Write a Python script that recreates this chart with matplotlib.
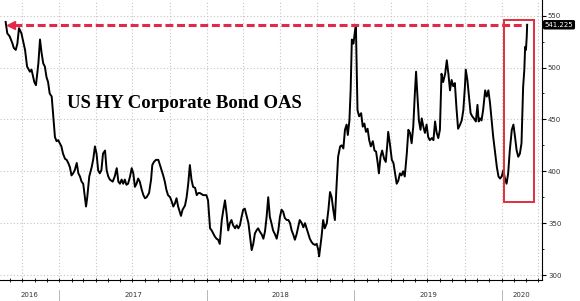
import pandas as pd
import matplotlib
matplotlib.use("Agg")
import matplotlib.pyplot as plt
import matplotlib.dates as mdates
from matplotlib.patches import Rectangle
from matplotlib.transforms import blended_transform_factory

# observation dates, as days after 2017-01-01, and the OAS in bp
days = [-133, -129, -123, -116, -113, -108, -104, -100, -94, -90,
        -85, -80, -73, -69, -62, -58, -52, -48, -44, -40,
        -36, -32, -28, -24, -19, -15, -11, -7, -3, 1,
        5, 9, 14, 18, 22, 26, 30, 34, 38, 43,
        47, 51, 55, 59, 63, 66, 69, 74, 80, 84,
        88, 92, 96,
        100, 104, 108, 113, 117, 121, 125, 132, 137, 142,
        146, 150, 154, 158, 162, 166, 170, 175, 179, 183,
        187, 191, 195, 199, 204, 208, 212, 216, 222, 227,
        230, 234, 239, 245, 249, 253, 257, 261, 265, 269,
        274, 278, 282, 286, 290, 294, 298, 301, 305, 311,
        315, 319, 323, 327, 331, 336, 340, 344,
        348, 356, 364, 368, 373, 377, 381, 385, 389, 393,
        397, 402, 406, 410, 414, 418, 422, 426, 430, 435,
        439, 443, 447, 451, 455, 459, 464, 468, 472, 476,
        480, 484, 488, 492, 496, 501, 505, 509, 513, 517,
        521, 525, 529, 534, 538, 542, 546, 550, 554, 558,
        563, 567, 571, 575, 579, 583, 587, 595, 600, 604,
        608, 612, 616, 620, 624, 628, 633, 637, 641, 643,
        649, 653, 657, 662, 666, 670, 674, 678, 682, 686,
        690, 695, 699, 703, 707, 711, 714, 718, 721, 724,
        728, 732, 734, 736, 738, 742, 747, 751, 755, 759,
        763, 767, 771, 776, 780, 784, 788, 791, 795, 799,
        804, 808, 812, 814, 818, 823, 827, 831, 835, 839,
        843, 847, 851, 855, 860, 864, 868, 872, 876, 880,
        883, 886, 890, 894, 897, 901, 905, 909, 913, 917,
        922, 926, 930, 934, 938, 942, 946, 950, 955, 959,
        963, 967, 971, 975, 979, 983, 987, 992, 996, 1000,
        1004, 1006, 1010, 1014, 1018, 1022, 1026, 1031, 1035, 1038,
        1041,
        1045, 1049, 1054, 1058, 1062, 1066, 1070, 1074, 1078, 1083,
        1087, 1091, 1095, 1099, 1103, 1107, 1111, 1115, 1120, 1124,
        1128, 1132, 1136, 1140, 1144, 1148, 1151, 1153, 1155, 1157,
        1158]

oas = [544, 533, 530, 523, 519, 517, 523, 538, 533, 526,
       517, 501, 496, 498, 486, 483, 504, 527, 514, 504,
       501, 491, 486, 475, 472, 453, 433, 429, 430, 427,
       424, 417, 412, 411, 408, 404, 396, 398, 401, 408,
       398, 395, 390, 388, 375, 366, 375, 395, 404, 412,
       424, 417, 401,
       398, 401, 417, 420, 401, 395, 392, 390, 395, 403,
       390, 388, 392, 388, 392, 387, 388, 395, 403, 398,
       385, 388, 393, 390, 382, 377, 374, 375, 379, 392,
       406, 409, 411, 411, 406, 401, 396, 390, 382, 377,
       375, 371, 366, 369, 374, 366, 361, 357, 363, 367,
       375, 388, 406, 392, 385, 384, 377, 379,
       379, 377, 377, 372, 345, 343, 340, 337, 335, 334,
       330, 353, 363, 372, 359, 343, 350, 353, 348, 345,
       348, 345, 348, 356, 363, 364, 356, 350, 337, 324,
       330, 340, 343, 345, 342, 339, 335, 342, 356, 375,
       356, 350, 343, 339, 335, 343, 356, 363, 361, 355,
       353, 353, 350, 343, 339, 334, 339, 353, 350, 346,
       350, 345, 340, 335, 332, 330, 329, 330, 324, 318,
       337, 353, 345, 350, 363, 380, 375, 363, 353, 385,
       414, 424, 425, 422, 440, 445, 435, 449, 478, 527,
       523, 536, 541, 501, 459, 453, 456, 443, 446, 438,
       441, 430, 424, 429, 420, 419, 408, 398, 414, 420,
       412, 409, 427, 438, 427, 411, 408, 398, 388, 391,
       398, 396, 400, 395, 417, 440, 437, 427, 443, 475,
       496, 475, 449, 440, 451, 443, 437, 445, 433, 430,
       432, 430, 448, 437, 432, 440, 494, 486, 494, 507,
       494, 478, 488, 482, 485, 461, 441, 445, 449, 459,
       482, 498, 488, 472, 456, 453, 451, 448, 464, 448,
       451,
       449, 459, 478, 472, 478, 466, 449, 433, 420, 404,
       395, 393, 395, 401, 393, 388, 398, 420, 440, 445,
       433, 420, 414, 417, 427, 481, 498, 520, 517, 530,
       541.225]

last_value = 541.225
years = [2016, 2017, 2018, 2019, 2020]
y_ticks = [300, 350, 400, 450, 500, 550]

x_start = pd.Timestamp("2016-08-07")
x_end = pd.Timestamp("2020-04-09")

dates = pd.Timestamp("2017-01-01") + pd.to_timedelta(days, unit="D")

fig = plt.figure(figsize=(5.8, 3.01), dpi=100)
ax = fig.add_axes([0, 1 - 280 / 301, 541.7 / 580, 280 / 301])

# grid
ax.grid(True, which="major", linestyle=(0, (1, 2)), color="#c4c4c4", linewidth=0.8)
ax.set_axisbelow(True)

# the series
ax.plot(dates, oas, color="black", linewidth=1.4, solid_joinstyle="round", zorder=3)

ax.set_xlim(x_start, x_end)
ax.set_ylim(295.2, 565.1)

# axes styling
for side in ["left", "top"]:
    ax.spines[side].set_visible(False)
for side in ["right", "bottom"]:
    ax.spines[side].set_color("black")
    ax.spines[side].set_linewidth(0.8)

ax.yaxis.tick_right()
ax.set_yticks(y_ticks)
ax.set_yticks(range(300, 551, 25), minor=True)
ax.tick_params(axis="y", which="major", direction="out", length=3, width=0.8,
               labelsize=5, labelcolor="#333333", pad=1.5)
ax.tick_params(axis="y", which="minor", direction="out", length=1.5, width=0.6)

ax.xaxis.set_major_locator(mdates.MonthLocator(bymonth=[1, 4, 7, 10]))
ax.xaxis.set_minor_locator(mdates.MonthLocator())
ax.tick_params(axis="x", which="both", direction="inout", length=3, width=0.6,
               labelbottom=False)

# year labels centred on the visible part of each year, with separators
xt = ax.get_xaxis_transform()
for yr in years:
    lo = max(pd.Timestamp(f"{yr}-01-01"), x_start)
    hi = min(pd.Timestamp(f"{yr + 1}-01-01"), x_end)
    ax.text(lo + (hi - lo) / 2, -0.054, str(yr), transform=xt, ha="center",
            va="center", fontsize=5, color="#333333")
    if yr > years[0]:
        sep = pd.Timestamp(f"{yr}-01-01")
        ax.plot([sep, sep], [-0.036, -0.08], transform=xt, color="#aaaaaa",
                linewidth=0.6, clip_on=False)

# red dashed arrow pointing back to the 2016 level
arrow_left = pd.Timestamp("2016-09-10")
arrow_right = pd.Timestamp("2020-02-27")
ax.plot([arrow_left, arrow_right], [last_value, last_value], color="#e3284b",
        linewidth=2.2, dashes=(2.6, 1.2), dash_capstyle="butt", zorder=4)
ax.plot([pd.Timestamp("2016-09-03")], [last_value], marker="<", markersize=6,
        color="#e3284b", zorder=4)

# highlight box around the recent move
box_start = pd.Timestamp("2020-01-07")
box_end = pd.Timestamp("2020-03-21")
ax.add_patch(Rectangle((mdates.date2num(box_start), 370.6),
                       mdates.date2num(box_end) - mdates.date2num(box_start),
                       545.8 - 370.6, fill=False, edgecolor="#e0303c",
                       linewidth=1.4, zorder=5))

# last value tag on the axis
tr = blended_transform_factory(ax.transAxes, ax.transData)
ax.text(1.0055, last_value, f"{last_value:.3f}", transform=tr, ha="left",
        va="center", fontsize=5, color="white", clip_on=False,
        bbox=dict(boxstyle="round,pad=0.25", fc="black", ec="none"))

ax.text(0.1237, 0.616, "US HY Corporate Bond OAS", transform=ax.transAxes,
        fontsize=13.5, fontweight="bold", family="Liberation Serif",
        va="baseline", ha="left")

fig.savefig("out.png", dpi=100)
